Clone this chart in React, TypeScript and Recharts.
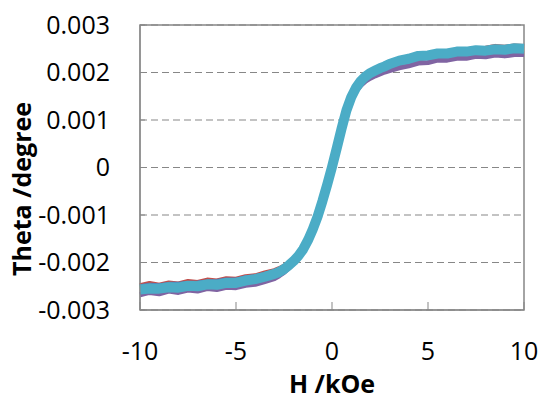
import { LineChart, Line, XAxis, YAxis, CartesianGrid, ReferenceArea } from "recharts";

// field values (kOe)
const H = [
  -10, -9.5, -9, -8.5, -8, -7.5, -7, -6.5, -6, -5.5, -5, -4.5, -4, -3.5, -3,
  -2.75, -2.5, -2.25, -2, -1.75, -1.5, -1.25, -1, -0.75, -0.5, -0.25, 0,
  0.25, 0.5, 0.75, 1, 1.25, 1.5, 1.75, 2, 2.25, 2.5, 2.75,
  3, 3.5, 4, 4.5, 5, 5.5, 6, 6.5, 7, 7.5, 8, 8.5, 9, 9.5, 10,
];

// Kerr rotation (degree), one array per measurement
const RED = [
  -0.00249, -0.00244, -0.00248, -0.00243, -0.00245, -0.0024, -0.00242, -0.00237, -0.00239, -0.00234,
  -0.00235, -0.0023, -0.00228, -0.00222, -0.00217, -0.00213, -0.00208, -0.00201, -0.00193, -0.00183,
  -0.0017, -0.00151, -0.00128, -0.00101, -0.00069, -0.00034, 0.00003, 0.00043, 0.00084, 0.00122,
  0.0015, 0.0017, 0.00184, 0.00194, 0.00201, 0.00206, 0.00211, 0.00215, 0.00219, 0.00226,
  0.00231, 0.00237, 0.00238, 0.00243, 0.00244, 0.00247, 0.00248, 0.0025, 0.00251, 0.00255,
  0.00253, 0.00256, 0.00255,
];
const BLUE = [
  -0.00251, -0.00248, -0.00249, -0.00246, -0.00246, -0.00244, -0.00243, -0.00241, -0.0024, -0.00237,
  -0.00237, -0.00232, -0.0023, -0.00225, -0.00219, -0.00215, -0.00209, -0.00202, -0.00194, -0.00184,
  -0.00171, -0.00152, -0.00129, -0.00102, -0.0007, -0.00035, 0.00002, 0.00042, 0.00083, 0.0012,
  0.00148, 0.00167, 0.00181, 0.0019, 0.00197, 0.00202, 0.00206, 0.0021, 0.00214, 0.0022,
  0.00225, 0.00229, 0.00232, 0.00235, 0.00237, 0.00239, 0.0024, 0.00242, 0.00243, 0.00245,
  0.00245, 0.00247, 0.00248,
];
const GREEN = [
  -0.00254, -0.0025, -0.00252, -0.00248, -0.00249, -0.00245, -0.00246, -0.00243, -0.00243, -0.00239,
  -0.00239, -0.00235, -0.00232, -0.00227, -0.00221, -0.00217, -0.00211, -0.00204, -0.00195, -0.00185,
  -0.00171, -0.00152, -0.00129, -0.00102, -0.0007, -0.00035, 0.00002, 0.00042, 0.00082, 0.0012,
  0.00147, 0.00166, 0.0018, 0.0019, 0.00196, 0.00201, 0.00206, 0.0021, 0.00213, 0.0022,
  0.00224, 0.0023, 0.00232, 0.00236, 0.00237, 0.0024, 0.00241, 0.00243, 0.00244, 0.00246,
  0.00246, 0.00249, 0.00248,
];
const PURPLE = [
  -0.00268, -0.00263, -0.00266, -0.0026, -0.00263, -0.00258, -0.0026, -0.00255, -0.00257, -0.00252,
  -0.00253, -0.00248, -0.00246, -0.0024, -0.00234, -0.00228, -0.00221, -0.00212, -0.00202, -0.0019,
  -0.00175, -0.00156, -0.00133, -0.00105, -0.00073, -0.00038, -0.00001, 0.00039, 0.00079, 0.00116,
  0.00143, 0.00161, 0.00173, 0.00182, 0.00188, 0.00193, 0.00197, 0.00201, 0.00204, 0.0021,
  0.00214, 0.0022, 0.00221, 0.00226, 0.00226, 0.0023, 0.0023, 0.00234, 0.00233, 0.00237,
  0.00235, 0.00238, 0.00238,
];
const CYAN = [
  -0.00257, -0.00255, -0.00255, -0.00252, -0.00253, -0.00249, -0.0025, -0.00246, -0.00247, -0.00243,
  -0.00243, -0.00238, -0.00235, -0.0023, -0.00224, -0.0022, -0.00214, -0.00206, -0.00197, -0.00186,
  -0.00172, -0.00153, -0.0013, -0.00103, -0.00071, -0.00036, 0.00001, 0.00041, 0.00082, 0.0012,
  0.00148, 0.00168, 0.00182, 0.00192, 0.00199, 0.00204, 0.00209, 0.00213, 0.00218, 0.00225,
  0.00229, 0.00235, 0.00236, 0.0024, 0.0024, 0.00244, 0.00244, 0.00247, 0.00246, 0.00249,
  0.00248, 0.00251, 0.0025,
];

const X_TICKS = [-10, -5, 0, 5, 10];
const Y_TICKS = [-0.003, -0.002, -0.001, 0, 0.001, 0.002, 0.003];

const SERIES = [
  { key: "red", color: "#c0504d", width: 5 },
  { key: "blue", color: "#4f81bd", width: 5 },
  { key: "green", color: "#9bbb59", width: 5 },
  { key: "purple", color: "#8064a2", width: 5 },
  { key: "cyan", color: "#4bacc6", width: 10 },
];

const rows = H.map((h, i) => ({
  h,
  red: RED[i],
  blue: BLUE[i],
  green: GREEN[i],
  purple: PURPLE[i],
  cyan: CYAN[i],
}));

const FONT = "'Open Sans', 'Liberation Sans', sans-serif";
const AXIS_GREY = "#878787";

const fmtY = (v: number) => (v === 0 ? "0" : v.toFixed(3));

function YTitle() {
  return (
    <text
      x={31}
      y={189}
      transform="rotate(-90, 31, 189)"
      textAnchor="middle"
      fontFamily={FONT}
      fontWeight="bold"
      fontSize={25}
      fill="#000"
    >
      Theta /degree
    </text>
  );
}

export default function App() {
  return (
    <div style={{ position: "absolute", left: 0, top: 0, background: "#fff" }}>
      <LineChart width={542} height={401} data={rows} margin={{ top: 25, right: 18, bottom: 0, left: 0 }}>
        <CartesianGrid horizontal vertical={false} stroke={AXIS_GREY} strokeDasharray="7 4" />
        <XAxis
          dataKey="h"
          type="number"
          domain={[-10, 10]}
          ticks={X_TICKS}
          height={91}
          tickSize={-8}
          tickMargin={40}
          stroke={AXIS_GREY}
          tick={{ fill: "#000", fontSize: 25, fontFamily: FONT }}
          label={{
            value: "H /kOe",
            position: "insideBottom",
            offset: 8,
            fill: "#000",
            fontSize: 25,
            fontWeight: "bold",
            fontFamily: FONT,
          }}
        />
        <YAxis
          type="number"
          domain={[-0.003, 0.003]}
          ticks={Y_TICKS}
          width={140}
          tickSize={-5}
          tickMargin={35}
          tickFormatter={fmtY}
          stroke={AXIS_GREY}
          tick={{ fill: "#000", fontSize: 25, fontFamily: FONT }}
          label={<YTitle />}
        />
        <ReferenceArea x1={-10} x2={10} y1={-0.003} y2={0.003} fill="none" stroke={AXIS_GREY} strokeWidth={1.5} />
        {SERIES.map((s) => (
          <Line
            key={s.key}
            dataKey={s.key}
            stroke={s.color}
            strokeWidth={s.width}
            strokeLinejoin="round"
            dot={false}
            activeDot={false}
            isAnimationActive={false}
          />
        ))}
      </LineChart>
    </div>
  );
}
